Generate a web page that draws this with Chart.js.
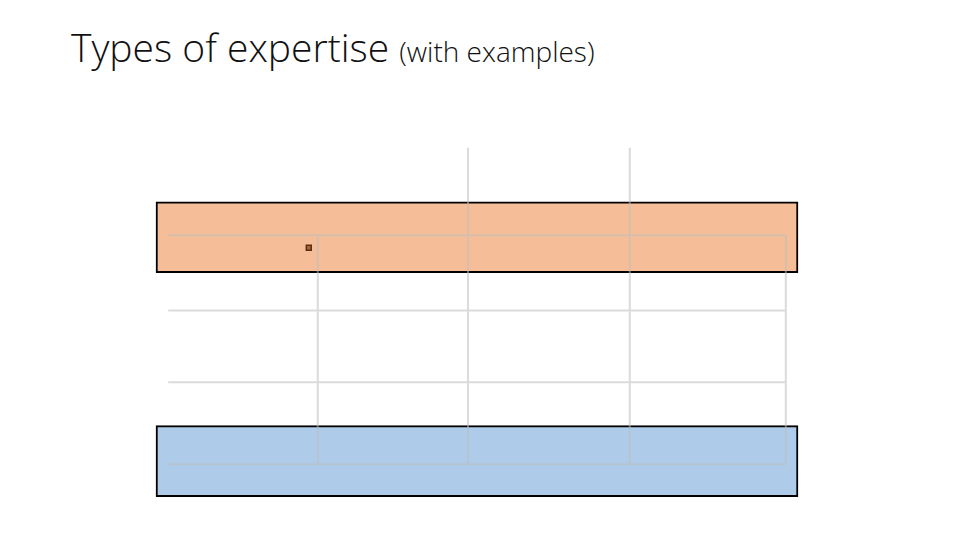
<!DOCTYPE html>
<html>
<head>
<meta charset="utf-8">
<script src="https://cdn.jsdelivr.net/npm/chart.js@4"></script>
<style>
  html, body { margin: 0; padding: 0; background: #fff; }
  #wrap { position: relative; width: 960px; height: 540px; }
  h1 { position: absolute; left: 71px; top: 20px; margin: 0; font-family: "Open Sans", sans-serif;
       font-weight: 300; font-size: 39px; color: #111; white-space: nowrap; }
  h1 small { font-size: 28px; }
  canvas { position: absolute; left: 0; top: 0; }
</style>
</head>
<body>
<div id="wrap">
  <h1>Types of expertise <small>(with examples)</small></h1>
  <canvas id="chart" width="960" height="540"></canvas>
</div>
<script>
// positions on 0-100 scales
const gridCols = [25.2, 48.6, 73.8, 98.1];
const gridColTops = [72.4, 100, 100, 72.4];
const gridRows = [72.4, 48.6, 25.9, 0];
const gridRowStart = 1.9;
const bandNames = ['Orange band', 'Blue band'];
const bandCenters = [60.5, 12.2];
const bandRanges = [[0, 100], [0, 100]];
const bandColors = ['#f5be98', '#aecce9'];
const markerPoints = [{ x: 23.8, y: 68.4 }];

// build grid segments separated by nulls
const gridPts = [];
gridCols.forEach((x, i) => {
    gridPts.push({ x: x, y: 0 }, { x: x, y: gridColTops[i] }, { x: x, y: null });
});
gridRows.forEach(y => {
    gridPts.push({ x: gridRowStart, y: y }, { x: gridCols[3], y: y }, { x: gridCols[3], y: null });
});

const datasets = bandNames.map((name, i) => ({
    type: 'bar',
    label: name,
    data: [{ x: bandRanges[i], y: bandCenters[i] }],
    backgroundColor: bandColors[i],
    borderColor: '#000',
    borderWidth: 2,
    borderSkipped: false,
    barThickness: 71,
    order: 2
}));
datasets.push({
    type: 'line',
    label: 'grid',
    data: gridPts,
    borderColor: 'rgba(190,190,190,0.55)',
    borderWidth: 2,
    pointRadius: 0,
    spanGaps: false,
    order: 1
});
datasets.push({
    type: 'scatter',
    label: 'marker',
    data: markerPoints,
    pointStyle: 'rect',
    pointRadius: 3.5,
    backgroundColor: '#a8643a',
    borderColor: '#5a2e12',
    borderWidth: 1.5,
    order: 0
});

new Chart(document.getElementById('chart'), {
    data: { datasets: datasets },
    options: {
        responsive: false,
        animation: false,
        indexAxis: 'y',
        layout: { autoPadding: false, padding: { left: 156, right: 162, top: 132, bottom: 60 } },
        plugins: { legend: { display: false }, tooltip: { enabled: false } },
        scales: {
            x: { type: 'linear', min: 0, max: 100, display: false },
            y: { type: 'linear', min: 0, max: 100, display: false }
        },
        clip: false
    }
});
</script>
</body>
</html>
